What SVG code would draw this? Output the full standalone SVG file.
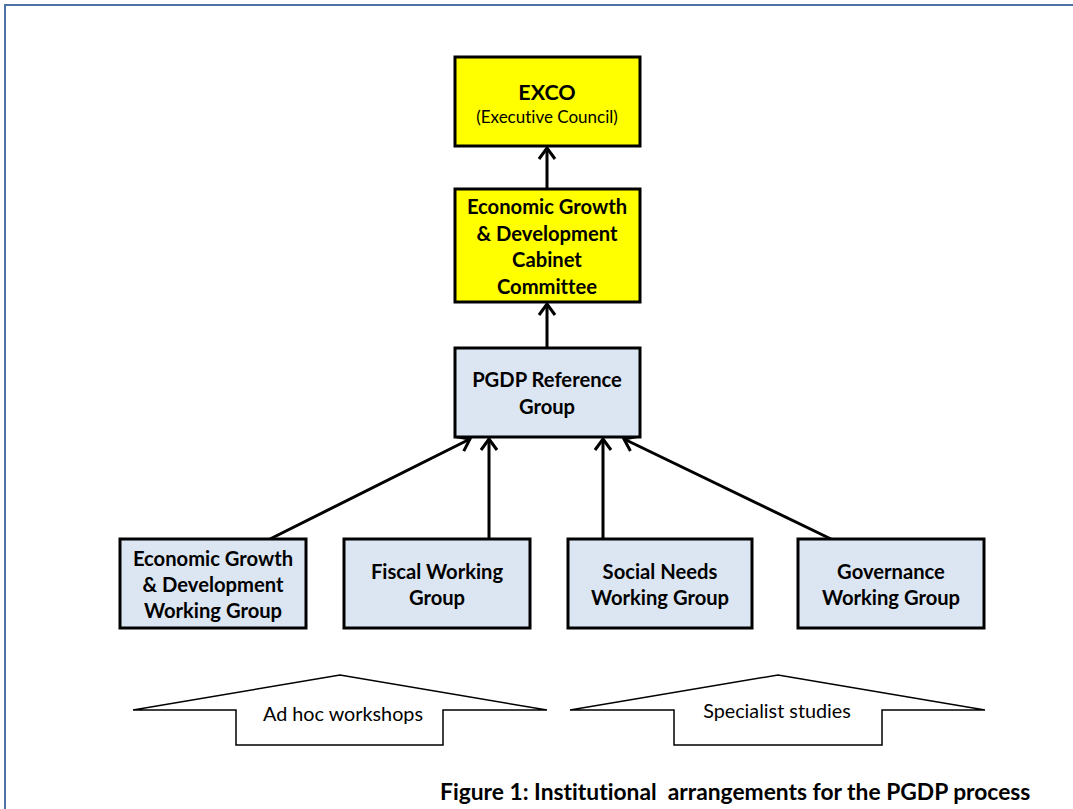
<svg xmlns="http://www.w3.org/2000/svg" width="1073" height="809" viewBox="0 0 1073 809">
<defs>
<style>
text{font-variant-ligatures:none;font-feature-settings:"liga" 0,"clig" 0}
.box{stroke:#000;stroke-width:3}
.yel{fill:#ffff00}
.blu{fill:#dce6f2}
.t{font-family:Lato,"Open Sans",sans-serif;font-weight:bold;font-size:20.2px;fill:#000;text-anchor:middle}
.r{font-family:Lato,"Open Sans",sans-serif;font-size:19.8px;fill:#000;text-anchor:middle}
.conn{stroke:#000;stroke-width:3;fill:none;marker-end:url(#arr)}
.shape{fill:#fff;stroke:#000;stroke-width:1.5}
</style>
<marker id="arr" viewBox="-14 -10 16 20" markerWidth="16" markerHeight="20" refX="0" refY="0" orient="auto" markerUnits="userSpaceOnUse">
<path d="M-11,-8 L0,0 L-11,8" fill="none" stroke="#000" stroke-width="3"/>
</marker>
</defs>
<rect x="5" y="5" width="1120" height="860" fill="none" stroke="#4f72a6" stroke-width="2"/>
<g id="connectors">
<line class="conn" x1="547" y1="189" x2="547" y2="148"/>
<line class="conn" x1="547" y1="348" x2="547" y2="304"/>
<line class="conn" x1="270" y1="539" x2="470" y2="439"/>
<line class="conn" x1="489" y1="539" x2="489" y2="439"/>
<line class="conn" x1="603" y1="539" x2="603" y2="439"/>
<line class="conn" x1="831" y1="539" x2="624" y2="439"/>
</g>
<g id="exco">
<rect class="box yel" x="455" y="57" width="185" height="89"/>
<text class="t" x="547" y="100" style="font-size:21.5px">EXCO</text>
<text class="r" x="547" y="123" style="font-size:17px">(Executive Council)</text>
</g>
<g id="cabinet">
<rect class="box yel" x="455" y="189" width="185" height="113"/>
<text class="t" x="547" y="214">Economic Growth</text>
<text class="t" x="547" y="241">&amp; Development</text>
<text class="t" x="547" y="267">Cabinet</text>
<text class="t" x="547" y="294">Committee</text>
</g>
<g id="pgdp">
<rect class="box blu" x="455" y="348" width="185" height="89"/>
<text class="t" x="547" y="387">PGDP Reference</text>
<text class="t" x="547" y="414">Group</text>
</g>
<g id="egdwg">
<rect class="box blu" x="120" y="539" width="186" height="89"/>
<text class="t" x="213" y="566">Economic Growth</text>
<text class="t" x="213" y="592">&amp; Development</text>
<text class="t" x="213" y="618">Working Group</text>
</g>
<g id="fiscal">
<rect class="box blu" x="344" y="539" width="186" height="89"/>
<text class="t" x="437" y="579">Fiscal Working</text>
<text class="t" x="437" y="605">Group</text>
</g>
<g id="social">
<rect class="box blu" x="568" y="539" width="184" height="89"/>
<text class="t" x="660" y="579">Social Needs</text>
<text class="t" x="660" y="605">Working Group</text>
</g>
<g id="governance">
<rect class="box blu" x="798" y="539" width="186" height="89"/>
<text class="t" x="891" y="579">Governance</text>
<text class="t" x="891" y="605">Working Group</text>
</g>
<g id="adhoc">
<polygon class="shape" points="133,710 340,675 547,710 443,710 443,745 236,745 236,710"/>
<text class="r" x="343" y="721">Ad hoc workshops</text>
</g>
<g id="specialist">
<polygon class="shape" points="570,710 778,675 985,710 882,710 882,745 674,745 674,710"/>
<text class="r" x="777" y="718">Specialist studies</text>
</g>
<text x="440" y="800" style="font-family:Lato,'Open Sans',sans-serif;font-weight:bold;font-size:22.8px;fill:#000" xml:space="preserve">Figure 1: Institutional  arrangements for the PGDP process</text>
</svg>
